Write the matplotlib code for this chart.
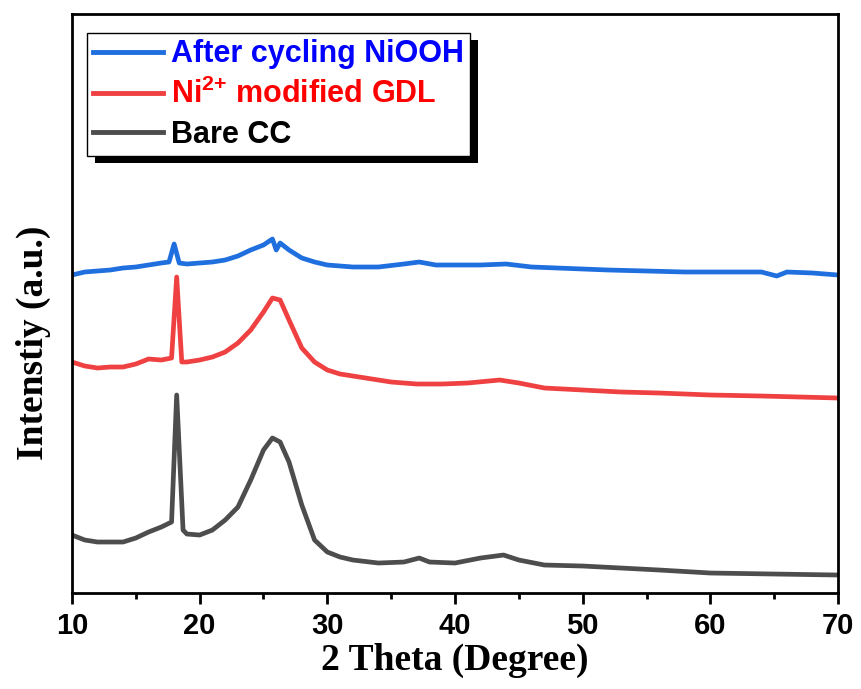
import matplotlib

matplotlib.use("Agg")
import matplotlib.pyplot as plt
from matplotlib.patches import Rectangle

# XRD patterns (2-theta in degrees, arbitrary intensity)
theta_niooh = [10, 11, 12, 13, 14, 15, 16, 17, 17.6, 18.0, 18.4, 19, 20, 21, 22, 23, 24, 25,
               25.7, 26.0, 26.3, 27, 28, 29, 30, 32, 34, 36, 37.2, 38.5, 40, 42, 44, 46, 48,
               50, 52, 55, 58, 60, 62, 64, 65.2, 66, 68, 70]
int_niooh = [318, 321, 322, 323, 325, 326, 328, 330, 331, 349, 330, 329, 330, 331, 333, 337, 343, 348,
             354, 343, 350, 343, 335, 331, 328, 326, 326, 329, 331, 328, 328, 328, 329, 326, 325,
             324, 323, 322, 321, 321, 321, 321, 317, 321, 320, 318]

theta_gdl = [10, 11, 12, 13, 14, 15, 16, 17, 17.8, 18.2, 18.6, 19, 20, 21, 22, 23, 24, 25,
             25.7, 26.3, 27, 28, 29, 30, 31, 33, 35, 37, 39, 41, 43.5, 45, 47, 50, 53, 56,
             60, 64, 67, 70]
int_gdl = [231, 227, 225, 226, 226, 229, 234, 233, 235, 316, 231, 231, 233, 236, 241, 250, 263, 281,
           295, 293, 273, 245, 231, 223, 219, 215, 211, 209, 209, 210, 213, 210, 205, 203, 201, 200,
           198, 197, 196, 195]

theta_cc = [10, 11, 12, 13, 14, 15, 16, 17, 17.8, 18.2, 18.7, 19, 20, 21, 22, 23, 24, 25,
            25.7, 26.3, 27, 28, 29, 30, 31, 32, 34, 36, 37.2, 38, 40, 42, 43.8, 45, 47, 50,
            53, 56, 60, 65, 70]
int_cc = [58, 53, 51, 51, 51, 55, 61, 66, 71, 198, 63, 59, 58, 63, 73, 86, 113, 143,
          155, 151, 131, 88, 53, 41, 36, 33, 30, 31, 35, 31, 30, 35, 38, 33, 28, 27,
          25, 23, 20, 19, 18]

labels = ["After cycling NiOOH", r"Ni$^{\mathbf{2{+}}}$ modified GDL", "Bare CC"]
line_colors = ["#1f6fde", "#ef4142", "#4d4d4d"]
text_colors = ["#0000ff", "#ff0000", "#000000"]

plt.rcParams["font.family"] = ["Liberation Sans", "DejaVu Sans"]
plt.rcParams["mathtext.fontset"] = "custom"
plt.rcParams["mathtext.bf"] = "Liberation Sans:bold"
plt.rcParams["mathtext.rm"] = "Liberation Sans:bold"

fig = plt.figure(figsize=(8.62, 6.89), dpi=100)
ax = fig.add_axes([0.0835, 0.1393, 0.8887, 0.8404])

series = [(theta_niooh, int_niooh), (theta_gdl, int_gdl), (theta_cc, int_cc)]
for (x, y), lab, c in zip(series, labels, line_colors):
    ax.plot(x, y, color=c, lw=3.4, label=lab, solid_joinstyle="round")

ax.set_xlim(10, 70)
ax.set_ylim(0, 579)
ax.set_xticks(range(10, 71, 10))
ax.set_xticks(range(15, 70, 10), minor=True)
ax.set_yticks([])
for s in ax.spines.values():
    s.set_linewidth(2)
ax.tick_params(axis="x", which="major", length=8, width=2, pad=6, labelsize=21)
ax.tick_params(axis="x", which="minor", length=4.5, width=2)
for t in ax.get_xticklabels():
    t.set_fontweight("bold")

ax.set_xlabel("2 Theta (Degree)", family="Liberation Serif", fontweight="bold",
              fontsize=27, labelpad=2)
ax.set_ylabel("Intenstiy (a.u.)", family="Liberation Serif", fontweight="bold", fontsize=27)
ax.yaxis.set_label_coords(-0.027, 0.432)

leg = ax.legend(loc="upper left", bbox_to_anchor=(0.0196, 0.967), borderaxespad=0,
                prop={"weight": "bold", "size": 22}, frameon=True, fancybox=False,
                handlelength=2.3, handletextpad=0.25, borderpad=0.2, labelspacing=0.32)
leg.get_frame().set_edgecolor("black")
leg.get_frame().set_linewidth(1)
leg.get_frame().set_alpha(1)
leg.set_zorder(10)
for t, c in zip(leg.get_texts(), text_colors):
    t.set_color(c)
for h in leg.get_lines():
    h.set_linewidth(3.5)

# hard black drop shadow behind the legend box
fig.canvas.draw()
bb = leg.get_window_extent().transformed(fig.transFigure.inverted())
dx, dy = 8 / 862, 7 / 689
ax.add_patch(Rectangle((bb.x0 + dx, bb.y0 - dy), bb.width, bb.height,
                       transform=fig.transFigure, facecolor="black", edgecolor="none",
                       clip_on=False, zorder=9))

fig.savefig("out.png", dpi=100)
